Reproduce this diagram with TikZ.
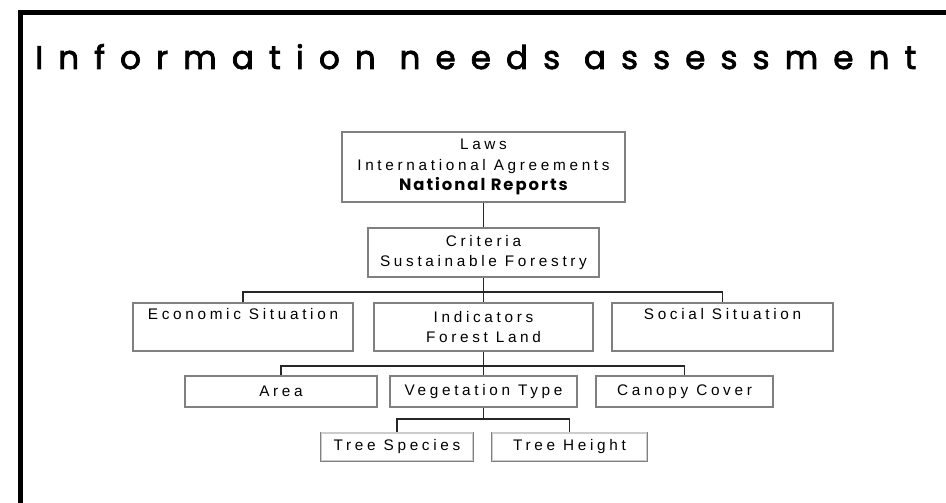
\documentclass[tikz,border=0pt]{standalone}
\usepackage{fontspec}
\setmainfont{Liberation Sans}
\newfontfamily\titlefont[LetterSpace=46,FakeBold=2.2]{Poppins}
\newfontfamily\reportfont[LetterSpace=12]{Poppins}
\newfontfamily\boxfont[LetterSpace=24]{Liberation Sans}
\usetikzlibrary{positioning, calc}

\begin{document}
\begin{tikzpicture}[x=0.75pt,y=-0.75pt,
    box/.style={draw=black!50, line width=1.1pt, inner sep=0pt, align=center,
      font=\boxfont\fontsize{11.5}{15.4}\selectfont},
    sz/.style n args={2}{minimum width=#1*0.75pt, minimum height=#2*0.75pt},
    link/.style={draw=black!85, line width=1.3pt}]
      \def\pgw{946}
      \def\pgh{503}
      \useasboundingbox (0,0) rectangle (\pgw,\pgh);

      % frame and title
      \draw[line width=3.75pt] (20,\pgh) -- (20,12.5) -- (\pgw,12.5);
      \node[anchor=base west,inner sep=0pt,font=\titlefont\fontsize{24.5}{24.5}\selectfont] (title) at (35,69) {Information needs assessment};

      \node[box,sz={283}{70}] (laws) at (483.5,167)
        {Laws\\International Agreements\\{\reportfont\bfseries\fontsize{12.3}{15.4}\selectfont National Reports}};
      \node[box,sz={231}{49}] (crit) at (483.5,252.5)
        {Criteria\\Sustainable Forestry};

      \node[box,sz={220}{48}] (econ) at (243,327) {Economic Situation\\\strut};
      \node[box,sz={219}{48}] (ind) at (483.5,327) {Indicators\\Forest Land};
      \node[box,sz={221}{48}] (soc) at (722.5,327) {Social Situation\\\strut};

      \node[box,sz={192}{31}] (area) at (281,391.5) {Area};
      \node[box,sz={187}{31}] (veg) at (483.5,391.5) {Vegetation Type};
      \node[box,sz={177}{31}] (can) at (684.5,391.5) {Canopy Cover};

      % faint top edge on the last row
      \node[box,draw=black!20,sz={152}{28}] (spec) at (397,447) {Tree Species};
      \node[box,draw=black!20,sz={155}{28}] (hgt) at (569.5,447) {Tree Height};
      \draw[black!50,line width=1.1pt] (spec.north west) -- (spec.south west) -- (spec.south east) -- (spec.north east);
      \draw[black!50,line width=1.1pt] (hgt.north west) -- (hgt.south west) -- (hgt.south east) -- (hgt.north east);

      % connectors
      \draw[link] (laws) -- (crit);
      \draw[link] (crit.south) -- ++(0,14) coordinate (j1);
      \draw[link] (econ.north) |- (j1) -| (soc.north);
      \draw[link] (j1) -- (ind.north);
      \draw[link] (ind.south) -- ++(0,14) coordinate (j2);
      \draw[link] (area.north) |- (j2) -| (can.north);
      \draw[link] (j2) -- (veg.north);
      \draw[link] (veg.south) -- ++(0,11) coordinate (j3);
      \draw[link] (spec.north) |- (j3) -| (hgt.north);
\end{tikzpicture}
\end{document}
